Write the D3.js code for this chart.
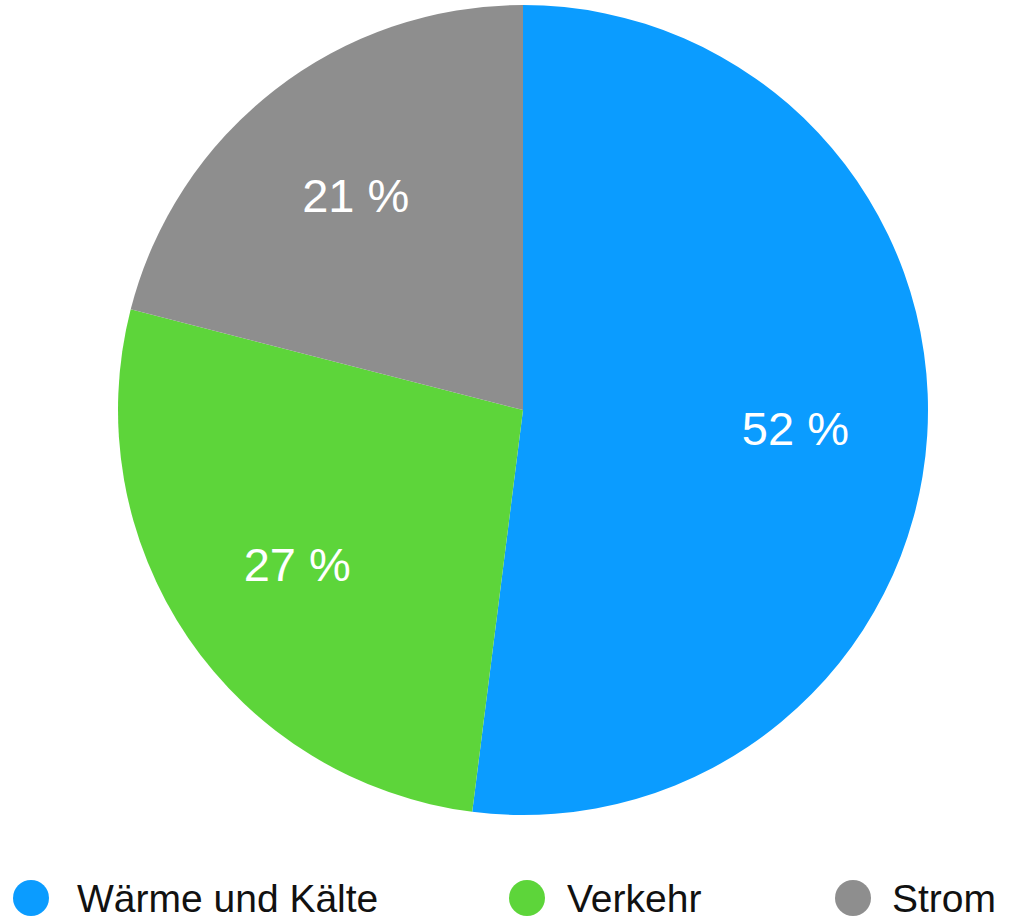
<!DOCTYPE html>
<html>
<head>
<meta charset="utf-8">
<script src="https://cdn.jsdelivr.net/npm/d3@7"></script>
<style>
  html, body { margin: 0; padding: 0; background: #ffffff; }
  svg { display: block; }
  text { font-family: "Liberation Sans", Arial, Helvetica, sans-serif; }
</style>
</head>
<body>
<svg id="chart" width="1023" height="922"></svg>
<script>
// Energy demand by sector (share in percent)
const categories = ["Wärme und Kälte", "Verkehr", "Strom"];
const values = [52, 27, 21];
const colors = ["#0b9cff", "#5dd53a", "#8e8e8e"];

const svg = d3.select("#chart");
const cx = 523, cy = 410, radius = 405;

const color = d3.scaleOrdinal().domain(categories).range(colors);

const pie = d3.pie()
  .sort(null)
  .value(d => d.value)
  .startAngle(0)
  .endAngle(2 * Math.PI);

const data = categories.map((c, i) => ({ name: c, value: values[i] }));
const arcs = pie(data);

const arc = d3.arc().innerRadius(0).outerRadius(radius);
const labelArc = d3.arc().innerRadius(radius * 0.674).outerRadius(radius * 0.674);

const g = svg.append("g").attr("transform", `translate(${cx},${cy})`);

g.selectAll("path.slice")
  .data(arcs)
  .join("path")
  .attr("class", "slice")
  .attr("d", arc)
  .attr("fill", d => color(d.data.name));

g.selectAll("text.value")
  .data(arcs)
  .join("text")
  .attr("class", "value")
  .attr("transform", d => `translate(${labelArc.centroid(d)})`)
  .attr("text-anchor", "middle")
  .attr("dy", "0.38em")
  .attr("fill", "#ffffff")
  .attr("font-size", 47)
  .text(d => `${d.data.value} %`);

// Legend row beneath the pie
const legendCircleX = [31, 527, 853];
const legendTextX = [77, 567, 892];
const legendY = 898;

const legend = svg.append("g").attr("class", "legend");
const items = legend.selectAll("g.item")
  .data(categories)
  .join("g")
  .attr("class", "item");

items.append("circle")
  .attr("cx", (d, i) => legendCircleX[i])
  .attr("cy", legendY)
  .attr("r", 18)
  .attr("fill", d => color(d));

items.append("text")
  .attr("x", (d, i) => legendTextX[i])
  .attr("y", legendY)
  .attr("dy", "0.36em")
  .attr("font-size", 39)
  .attr("fill", "#111111")
  .text(d => d);
</script>
</body>
</html>
